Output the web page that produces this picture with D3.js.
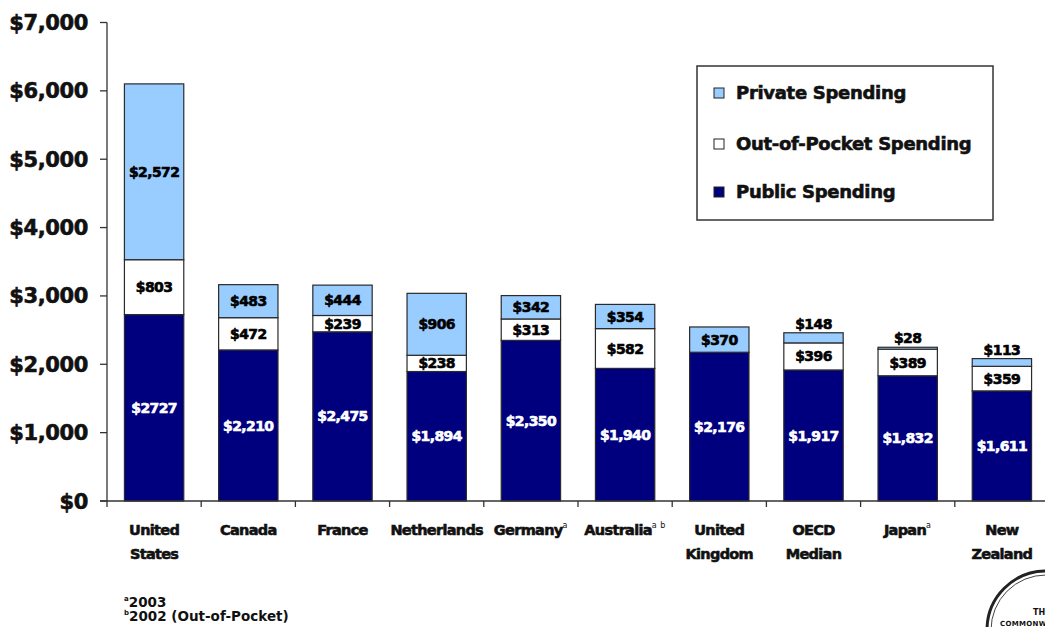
<!DOCTYPE html>
<html>
<head>
<meta charset="utf-8">
<script src="https://cdn.jsdelivr.net/npm/d3@7/dist/d3.min.js"></script>
<style>
  html, body { margin: 0; padding: 0; background: #ffffff; }
  svg { display: block; }
  text { font-family: "DejaVu Sans", "Liberation Sans", Arial, sans-serif; font-weight: bold; }
  .heavy { stroke: currentColor; stroke-width: 0.6px; paint-order: stroke; }
</style>
</head>
<body>
<svg id="chart" width="1045" height="627"></svg>
<script>
// Health care spending per capita, by source of funds
const categories = ["United States", "Canada", "France", "Netherlands", "Germany",
                    "Australia", "United Kingdom", "OECD Median", "Japan", "New Zealand"];
const categoryLines = [["United", "States"], ["Canada"], ["France"], ["Netherlands"], ["Germany"],
                       ["Australia"], ["United", "Kingdom"], ["OECD", "Median"], ["Japan"], ["New", "Zealand"]];
const categoryNotes = ["", "", "", "", "a", "a b", "", "", "a", ""];

const publicSpending  = [2727, 2210, 2475, 1894, 2350, 1940, 2176, 1917, 1832, 1611];
const outOfPocket     = [803, 472, 239, 238, 313, 582, 0, 396, 389, 359];
const privateSpending = [2572, 483, 444, 906, 342, 354, 370, 148, 28, 113];

const yTicks = [0, 1000, 2000, 3000, 4000, 5000, 6000, 7000];

const seriesNames = ["Private Spending", "Out-of-Pocket Spending", "Public Spending"];
const seriesKeys  = ["private", "oop", "public"];
const seriesColors = { public: "#00007f", oop: "#ffffff", private: "#99ccff" };
const labelColors  = { public: "#ffffff", oop: "#000000", private: "#000000" };

const footnotes = [["a", "2003"], ["b", "2002 (Out-of-Pocket)"]];

// ---- build stacked table ----
const table = categories.map((c, i) => ({
  category: c,
  public: publicSpending[i],
  oop: outOfPocket[i],
  private: privateSpending[i]
}));
const stack = d3.stack().keys(["public", "oop", "private"]);
const layers = stack(table);

const svg = d3.select("#chart");

const x = d3.scaleBand()
  .domain(categories)
  .range([107, 1049])
  .paddingInner(0.37)
  .paddingOuter(0.185);

const y = d3.scaleLinear().domain([0, 7000]).range([501, 22.5]);

// ---- axes ----
const yAxis = svg.append("g");
yAxis.append("line")
  .attr("x1", 107).attr("x2", 107)
  .attr("y1", y(7000)).attr("y2", y(0))
  .attr("stroke", "#333").attr("stroke-width", 1.3);
yAxis.selectAll("line.tick").data(yTicks).join("line")
  .attr("class", "tick")
  .attr("x1", 100).attr("x2", 107)
  .attr("y1", d => y(d)).attr("y2", d => y(d))
  .attr("stroke", "#333").attr("stroke-width", 1.3);
yAxis.selectAll("text").data(yTicks).join("text")
  .attr("class", "heavy")
  .attr("x", 88).attr("y", d => y(d))
  .attr("dy", "0.36em")
  .attr("text-anchor", "end")
  .attr("font-size", 21)
  .attr("letter-spacing", -0.4)
  .style("color", "#111")
  .attr("fill", "#111")
  .text(d => d3.format("$,")(d));

// ---- bars ----
const step = x.step();
const bandStart = x.range()[0];

const layerG = svg.append("g").selectAll("g").data(layers).join("g")
  .attr("fill", d => seriesColors[d.key]);

layerG.selectAll("rect")
  .data(d => d.filter(s => s[1] - s[0] > 0))
  .join("rect")
  .attr("x", d => x(d.data.category))
  .attr("width", x.bandwidth())
  .attr("y", d => y(d[1]))
  .attr("height", d => y(d[0]) - y(d[1]))
  .attr("stroke", "#2a2a2a")
  .attr("stroke-width", 1.2);

// x axis line and category boundary ticks
svg.append("line")
  .attr("x1", 100).attr("x2", 1045)
  .attr("y1", y(0)).attr("y2", y(0))
  .attr("stroke", "#333").attr("stroke-width", 1.3);
svg.append("g").selectAll("line")
  .data(d3.range(categories.length + 1))
  .join("line")
  .attr("x1", i => bandStart + i * step).attr("x2", i => bandStart + i * step)
  .attr("y1", y(0)).attr("y2", y(0) + 6)
  .attr("stroke", "#333").attr("stroke-width", 1.3);

// ---- value labels ----
const labelG = svg.append("g");
layers.forEach(layer => {
  layer.forEach((s, i) => {
    const v = s[1] - s[0];
    if (v <= 0) return;
    const cx = x(s.data.category) + x.bandwidth() / 2;
    const h = y(s[0]) - y(s[1]);
    const small = h < 12;
    const fmt = (layer.key === "public" && i === 0) ? d3.format("$") : d3.format("$,");
    const col = small ? "#000" : labelColors[layer.key];
    labelG.append("text")
      .attr("class", "heavy")
      .attr("x", cx)
      .attr("y", small ? y(s[1]) - 4 : (y(s[0]) + y(s[1])) / 2)
      .attr("dy", small ? 0 : "0.36em")
      .attr("text-anchor", "middle")
      .attr("font-size", 14)
      .attr("letter-spacing", -0.6)
      .style("color", col)
      .attr("fill", col)
      .text(fmt(v));
  });
});

// ---- category labels ----
const catG = svg.append("g").selectAll("text")
  .data(categories)
  .join("text")
  .attr("class", "heavy")
  .attr("text-anchor", "middle")
  .attr("font-size", 14.5)
  .attr("letter-spacing", -0.7)
  .style("color", "#111")
  .attr("fill", "#111");
catG.each(function (c, i) {
  const t = d3.select(this);
  const cx = x(c) + x.bandwidth() / 2;
  categoryLines[i].forEach((line, j) => {
    t.append("tspan")
      .attr("x", cx)
      .attr("y", 535 + j * 24)
      .text(line);
    if (j === 0 && categoryNotes[i]) {
      t.append("tspan")
        .attr("dy", -7)
        .attr("font-size", 8)
        .attr("font-weight", "normal")
        .attr("stroke-width", 0)
        .attr("letter-spacing", 0.5)
        .text(categoryNotes[i]);
    }
  });
});

// ---- legend ----
const legend = svg.append("g");
legend.append("rect")
  .attr("x", 697).attr("y", 66)
  .attr("width", 296).attr("height", 154)
  .attr("fill", "#fff")
  .attr("stroke", "#333").attr("stroke-width", 1.5);
const legendY = [93, 144, 192];
seriesKeys.forEach((k, i) => {
  legend.append("rect")
    .attr("x", 714).attr("y", legendY[i] - 5)
    .attr("width", 10).attr("height", 10)
    .attr("fill", seriesColors[k])
    .attr("stroke", "#222").attr("stroke-width", 1);
  legend.append("text")
    .attr("class", "heavy")
    .attr("x", 736).attr("y", legendY[i])
    .attr("dy", "0.36em")
    .attr("font-size", 18)
    .attr("letter-spacing", -0.3)
    .style("color", "#111")
    .attr("fill", "#111")
    .text(seriesNames[i]);
});

// ---- footnotes ----
footnotes.forEach((f, i) => {
  const t = svg.append("text")
    .attr("x", 124).attr("y", 607 + i * 14)
    .attr("font-size", 13.5)
    .attr("fill", "#111");
  t.append("tspan").attr("font-size", 7).attr("dy", -6).text(f[0]);
  t.append("tspan").attr("dy", 6).text(f[1]);
});

// ---- publisher seal, bottom right ----
const seal = svg.append("g");
seal.append("circle")
  .attr("cx", 1046).attr("cy", 630).attr("r", 59)
  .attr("fill", "none").attr("stroke", "#222").attr("stroke-width", 3);
seal.append("circle")
  .attr("cx", 1046).attr("cy", 630).attr("r", 55)
  .attr("fill", "none").attr("stroke", "#444").attr("stroke-width", 1);
seal.append("text")
  .attr("x", 1033).attr("y", 615)
  .attr("font-size", 8).attr("fill", "#111")
  .text("THE");
seal.append("text")
  .attr("x", 1000).attr("y", 626)
  .attr("font-size", 7).attr("fill", "#111")
  .attr("letter-spacing", 0.3)
  .text("COMMONWEALTH");
</script>
</body>
</html>
